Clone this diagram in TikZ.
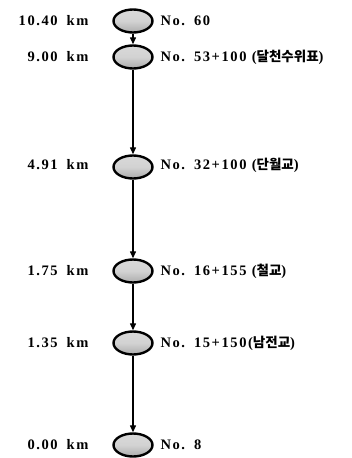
\documentclass[tikz,border=0pt]{standalone}
\usepackage{fontspec}
\setmainfont{Liberation Serif}
\newfontfamily\lblfont[LetterSpace=11]{Liberation Serif}
\newfontfamily\kfont{Noto Sans CJK KR}
\newcommand{\gap}{\hspace*{9pt}}
\newcommand{\kr}[1]{{\kfont\fontsize{13.5}{15}\selectfont #1}}
\usetikzlibrary{arrows.meta,shapes.geometric}
\begin{document}
\begin{tikzpicture}[x=1pt,y=-1pt,
  station/.style={ellipse, draw=black, line width=2.4pt,
    top color=gray!30, bottom color=gray!65, middle color=gray!35,
    minimum width=39pt, minimum height=23pt, inner sep=0pt},
  flow/.style={line width=1.3pt, -{Triangle[length=7pt,width=6pt]}},
  distlbl/.style={anchor=east, font=\lblfont\bfseries\fontsize{14.5}{16}\selectfont},
  stnlbl/.style={anchor=west, font=\lblfont\bfseries\fontsize{14.5}{16}\selectfont}]
\useasboundingbox (0,0) rectangle (351,458);
% stations along the river, top to bottom
\node[station] (s1) at (133,21) {};
\node[station] (s2) at (133,57) {};
\node[station] (s3) at (133,167) {};
\node[station] (s4) at (133,271) {};
\node[station] (s5) at (133,343) {};
\node[station] (s6) at (133,445) {};
% distance labels
\node[distlbl] (d1) at (92,21) {10.40\gap km};
\node[distlbl] (d2) at (92,57) {9.00\gap km};
\node[distlbl] (d3) at (92,165) {4.91\gap km};
\node[distlbl] (d4) at (92,271) {1.75\gap km};
\node[distlbl] (d5) at (92,343) {1.35\gap km};
\node[distlbl] (d6) at (92,445) {0.00\gap km};
% station names
\node[stnlbl] (n1) at (157,21) {No.\gap 60};
\node[stnlbl] (n2) at (157,57) {No.\gap 53+100 (\kr{달천수위표})};
\node[stnlbl] (n3) at (157,165) {No.\gap 32+100 (\kr{단월교})};
\node[stnlbl] (n4) at (157,271) {No.\gap 16+155 (\kr{철교})};
\node[stnlbl] (n5) at (157,343) {No.\gap 15+150(\kr{남전교})};
\node[stnlbl] (n6) at (157,445) {No.\gap 8};
% flow connectors
\draw[flow] (s1) -- (s2);
\draw[flow] (s2) -- (s3);
\draw[flow] (s3) -- (s4);
\draw[flow] (s4) -- (s5);
\draw[flow] (s5) -- (s6);
\end{tikzpicture}
\end{document}
